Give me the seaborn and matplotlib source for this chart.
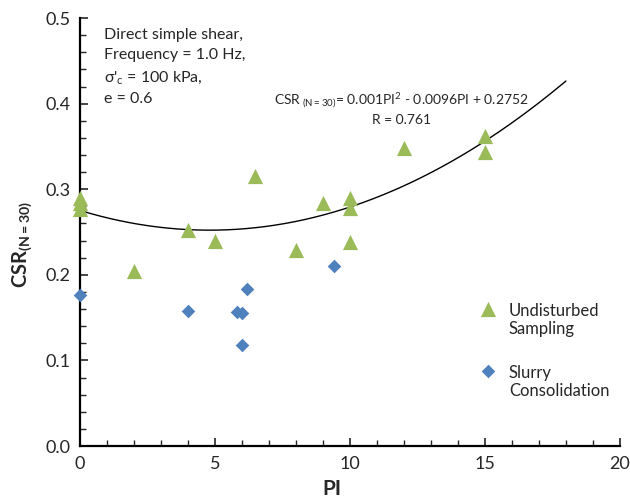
import numpy as np
import pandas as pd
import matplotlib
matplotlib.use("Agg")
import matplotlib.pyplot as plt
import seaborn as sns
from matplotlib.ticker import MultipleLocator

# 数据：不扰动取样 (绿色三角) 与 泥浆固结 (蓝色菱形)
pi_undisturbed = [0, 0, 0, 2, 4, 5, 6.5, 8, 9, 10, 10, 10, 12, 15, 15]
csr_undisturbed = [0.290, 0.284, 0.277, 0.205, 0.252, 0.240, 0.315, 0.229,
                   0.284, 0.290, 0.278, 0.238, 0.348, 0.362, 0.344]
pi_slurry = [0, 4, 5.8, 6, 6, 6.2, 9.4]
csr_slurry = [0.176, 0.158, 0.156, 0.155, 0.118, 0.184, 0.210]

# 趋势线系数 (图中方程)
fit_coef = [0.001, -0.0096, 0.2752]
fit_pi_max = 18

green = "#9BBB59"
blue = "#4F81BD"

sns.set_style("white")
plt.rcParams['font.family'] = ['Lato', 'DejaVu Sans']
plt.rcParams['mathtext.fontset'] = 'custom'
plt.rcParams['mathtext.rm'] = 'Lato'
plt.rcParams['mathtext.it'] = 'Lato'
plt.rcParams['mathtext.bf'] = 'Lato:bold'
plt.rcParams['mathtext.default'] = 'regular'

und = pd.DataFrame({"PI": pi_undisturbed, "CSR": csr_undisturbed})
slu = pd.DataFrame({"PI": pi_slurry, "CSR": csr_slurry})

fig = plt.figure(figsize=(6.3, 4.98), dpi=100)
ax = fig.add_axes([0.127, 0.1044, 0.857, 0.8594])

sns.scatterplot(data=und, x="PI", y="CSR", marker="^", color=green, s=120,
                linewidth=0, ax=ax, zorder=3, clip_on=False,
                label="Undisturbed\nSampling")
sns.scatterplot(data=slu, x="PI", y="CSR", marker="D", color=blue, s=48,
                linewidth=0, ax=ax, zorder=3, clip_on=False,
                label="Slurry\nConsolidation")

# 二次趋势线
xs = np.linspace(0, fit_pi_max, 200)
ax.plot(xs, np.polyval(fit_coef, xs), color="black", lw=1.0, zorder=2)

ax.set_xlim(0, 20)
ax.set_ylim(0, 0.5)
ax.xaxis.set_major_locator(MultipleLocator(5))
ax.xaxis.set_minor_locator(MultipleLocator(1))
ax.yaxis.set_major_locator(MultipleLocator(0.1))
ax.yaxis.set_minor_locator(MultipleLocator(0.02))
ax.yaxis.set_major_formatter(matplotlib.ticker.FormatStrFormatter("%.1f"))

for side in ["top", "right"]:
    ax.spines[side].set_visible(False)
for side in ["left", "bottom"]:
    ax.spines[side].set_linewidth(1.6)
    ax.spines[side].set_color("black")

ax.tick_params(axis="x", which="major", direction="in", length=6, width=1.2, labelsize=13, bottom=True, pad=7)
ax.tick_params(axis="x", which="minor", direction="in", length=4, width=1, bottom=True)
ax.tick_params(axis="y", which="major", direction="in", length=6, width=1.2, labelsize=13, left=True, pad=7)
ax.tick_params(axis="y", which="minor", direction="in", length=4, width=1, left=True)

ax.set_xlabel("PI", fontsize=15, fontweight="bold")
ax.xaxis.set_label_coords(0.467, -0.078)
ax.set_ylabel(r"$\mathbf{CSR_{(N=30)}}$", fontsize=14.5)
ax.yaxis.set_label_coords(-0.085, 0.47)

ax.text(0.9, 0.488, "Direct simple shear,\nFrequency = 1.0 Hz,\nσ'$_c$ = 100 kPa,\ne = 0.6",
        fontsize=11.5, va="top", ha="left", linespacing=1.55)
ax.text(11.9, 0.414, "CSR$_{\\ (N=30)}$= 0.001PI$^2$ - 0.0096PI + 0.2752\nR = 0.761",
        fontsize=10, va="top", ha="center", linespacing=1.25, multialignment="center")

ax.legend(loc="center left", bbox_to_anchor=(0.697, 0.222), frameon=False, fontsize=12,
          handletextpad=0.25, labelspacing=1.65, markerscale=1.0,
          scatteryoffsets=[1.5])

fig.savefig("out.png", dpi=100)
